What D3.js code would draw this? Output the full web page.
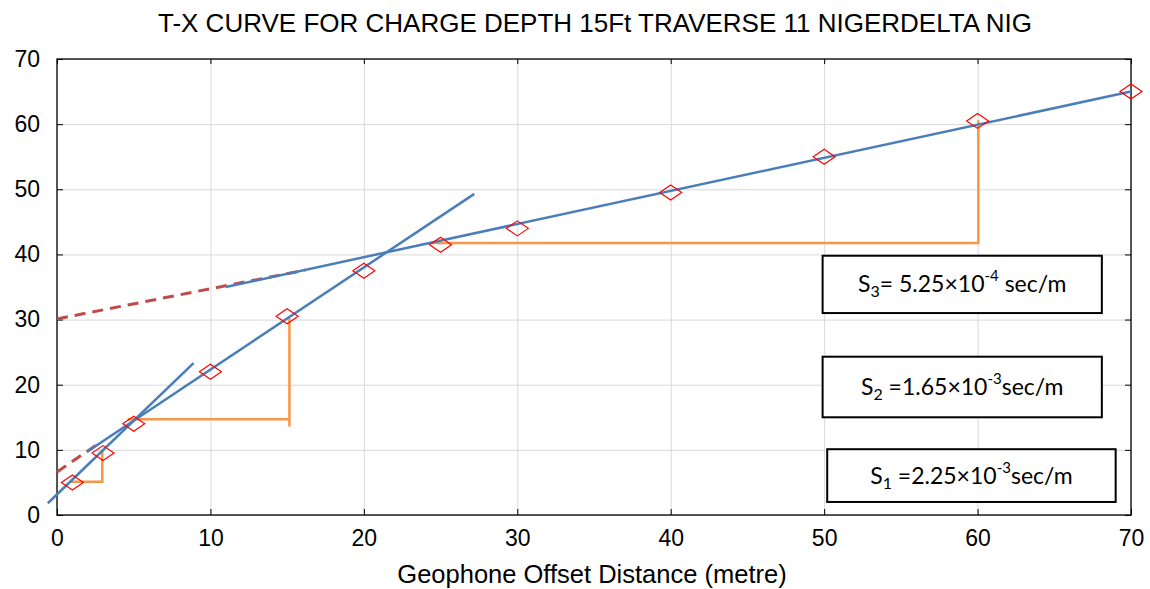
<!DOCTYPE html>
<html>
<head>
<meta charset="utf-8">
<script src="https://cdn.jsdelivr.net/npm/d3@7"></script>
<style>
  body { margin: 0; background: #fff; }
  .grid line { stroke: #d9d9d9; stroke-width: 1; }
  .grid path { display: none; }
  .axis path { display: none; }
  .axis line { stroke: #000; }
  .axis text { font-family: "Liberation Sans", Arial, sans-serif; font-size: 23px; fill: #000; }
  .fit { fill: none; stroke: #4a7ebb; stroke-width: 2.5; }
  .ext { fill: none; stroke: #be4b48; stroke-width: 3; stroke-dasharray: 11 7; }
  .slope { fill: none; stroke: #f79646; stroke-width: 2.5; }
  .pt { fill: none; stroke: #ff0000; stroke-width: 1.2; }
  .note rect { fill: #fff; stroke: #000; stroke-width: 2; }
  .note text { font-family: Lato, "Open Sans", sans-serif; font-size: 23px; fill: #000; }
</style>
</head>
<body>
<div id="chart"></div>
<script>
const svgWidth = 1150;
const svgHeight = 589;
const margin = {top: 59, right: 19, bottom: 74, left: 57};
const width = svgWidth - margin.left - margin.right;
const height = svgHeight - margin.top - margin.bottom;

// observed first arrivals
const offsets = [1, 3, 5, 10, 15, 20, 25, 30, 40, 50, 60, 70];
const times = [5, 9.5, 14, 22, 30.5, 37.5, 41.5, 44, 49.5, 55, 60.5, 65];

const xTicks = [0, 10, 20, 30, 40, 50, 60, 70];
const yTicks = [0, 10, 20, 30, 40, 50, 60, 70];

// fitted segments
const fit1 = [[-0.6, 1.8], [8.9, 23.3]];
const fit2 = [[1.96, 9.7], [27.2, 49.3]];
const fit3 = [[11.0, 35.0], [70, 65]];
const ext2 = [[0, 6.6], [2.6, 10.8]];
const ext3 = [[0, 30.1], [16.2, 37.6]];

// slope triangles
const tri1 = [[0.85, 5.1], [2.95, 5.1], [2.95, 9.9]];
const tri2 = [[4.6, 14.7], [15.15, 14.7], [15.15, 13.6], [15.15, 30.2]];
const tri3 = [[24.45, 41.75], [60.05, 41.75], [60.05, 60.6]];

const noteLabels = [
  {s: "3", pre: "= 5.25×10", exp: "-4", post: " sec/m"},
  {s: "2", pre: " =1.65×10", exp: "-3", post: "sec/m"},
  {s: "1", pre: " =2.25×10", exp: "-3", post: "sec/m"}
];
// boxes in data units: x0, x1, yTop, yBottom
const noteBoxes = [[49.9, 68.1, 39.8, 31.0], [49.9, 68.1, 24.3, 15.0], [50.2, 69.0, 10.1, 2.0]];

const title = "T-X CURVE FOR CHARGE DEPTH 15Ft TRAVERSE 11 NIGERDELTA NIG";
const xLabel = "Geophone Offset Distance (metre)";

const svg0 = d3.select("#chart").append("svg")
  .attr("width", svgWidth).attr("height", svgHeight);
const svg = svg0.append("g")
  .attr("transform", "translate(" + margin.left + "," + margin.top + ")");

const x = d3.scaleLinear().domain([0, 70]).range([0, width]);
const y = d3.scaleLinear().domain([0, 70]).range([height, 0]);

// grid
svg.append("g").attr("class", "grid")
  .attr("transform", "translate(0," + height + ")")
  .call(d3.axisBottom(x).tickValues(xTicks).tickSize(-height).tickFormat(""));
svg.append("g").attr("class", "grid")
  .call(d3.axisLeft(y).tickValues(yTicks).tickSize(-width).tickFormat(""));

// frame
svg.append("rect").attr("width", width).attr("height", height)
  .attr("fill", "none").attr("stroke", "#222").attr("stroke-width", 1.5);

// axes with inward ticks
svg.append("g").attr("class", "axis")
  .attr("transform", "translate(0," + height + ")")
  .call(d3.axisBottom(x).tickValues(xTicks).tickSizeInner(-6).tickSizeOuter(0).tickPadding(15));
svg.append("g").attr("class", "axis")
  .call(d3.axisLeft(y).tickValues(yTicks).tickSizeInner(-6).tickSizeOuter(0).tickPadding(17));
svg.append("g").attr("class", "axis")
  .attr("transform", "translate(" + width + ",0)")
  .call(d3.axisRight(y).tickValues(yTicks).tickSizeInner(-6).tickSizeOuter(0).tickFormat(""));
svg.append("g").attr("class", "axis")
  .call(d3.axisTop(x).tickValues(xTicks).tickSizeInner(-5).tickSizeOuter(0).tickFormat(""));

const line = d3.line().x(d => x(d[0])).y(d => y(d[1]));

[ext2, ext3].forEach(seg => svg.append("path").datum(seg).attr("class", "ext").attr("d", line));
[tri1, tri2, tri3].forEach(seg => svg.append("path").datum(seg).attr("class", "slope").attr("d", line));
[fit1, fit2, fit3].forEach(seg => svg.append("path").datum(seg).attr("class", "fit").attr("d", line));

// diamonds
svg.selectAll(".pt").data(offsets).join("path")
  .attr("class", "pt")
  .attr("d", (d, i) => {
    const cx = x(d), cy = y(times[i]);
    return "M" + (cx - 11) + "," + cy + "L" + cx + "," + (cy - 7.5) +
           "L" + (cx + 11) + "," + cy + "L" + cx + "," + (cy + 7.5) + "Z";
  });

// notes
noteBoxes.forEach((b, i) => {
  const g = svg.append("g").attr("class", "note");
  g.append("rect")
    .attr("x", x(b[0])).attr("y", y(b[2]))
    .attr("width", x(b[1]) - x(b[0])).attr("height", y(b[3]) - y(b[2]));
  const lab = noteLabels[i];
  const t = g.append("text")
    .attr("x", (x(b[0]) + x(b[1])) / 2)
    .attr("y", (y(b[2]) + y(b[3])) / 2 + 8)
    .attr("text-anchor", "middle");
  t.append("tspan").text("S");
  t.append("tspan").attr("font-size", 16).attr("dy", 5).text(lab.s);
  t.append("tspan").attr("dy", -5).text(lab.pre);
  t.append("tspan").attr("font-size", 15).attr("dy", -11).text(lab.exp);
  t.append("tspan").attr("dy", 11).text(lab.post);
});

// title and label
svg0.append("text")
  .attr("x", 595).attr("y", 32)
  .attr("text-anchor", "middle")
  .style("font-family", "'Liberation Sans', Arial, sans-serif")
  .style("font-size", "26px")
  .text(title);
svg0.append("text")
  .attr("x", 592).attr("y", 583)
  .attr("text-anchor", "middle")
  .style("font-family", "'Liberation Sans', Arial, sans-serif")
  .style("font-size", "25.5px")
  .text(xLabel);
</script>
</body>
</html>
